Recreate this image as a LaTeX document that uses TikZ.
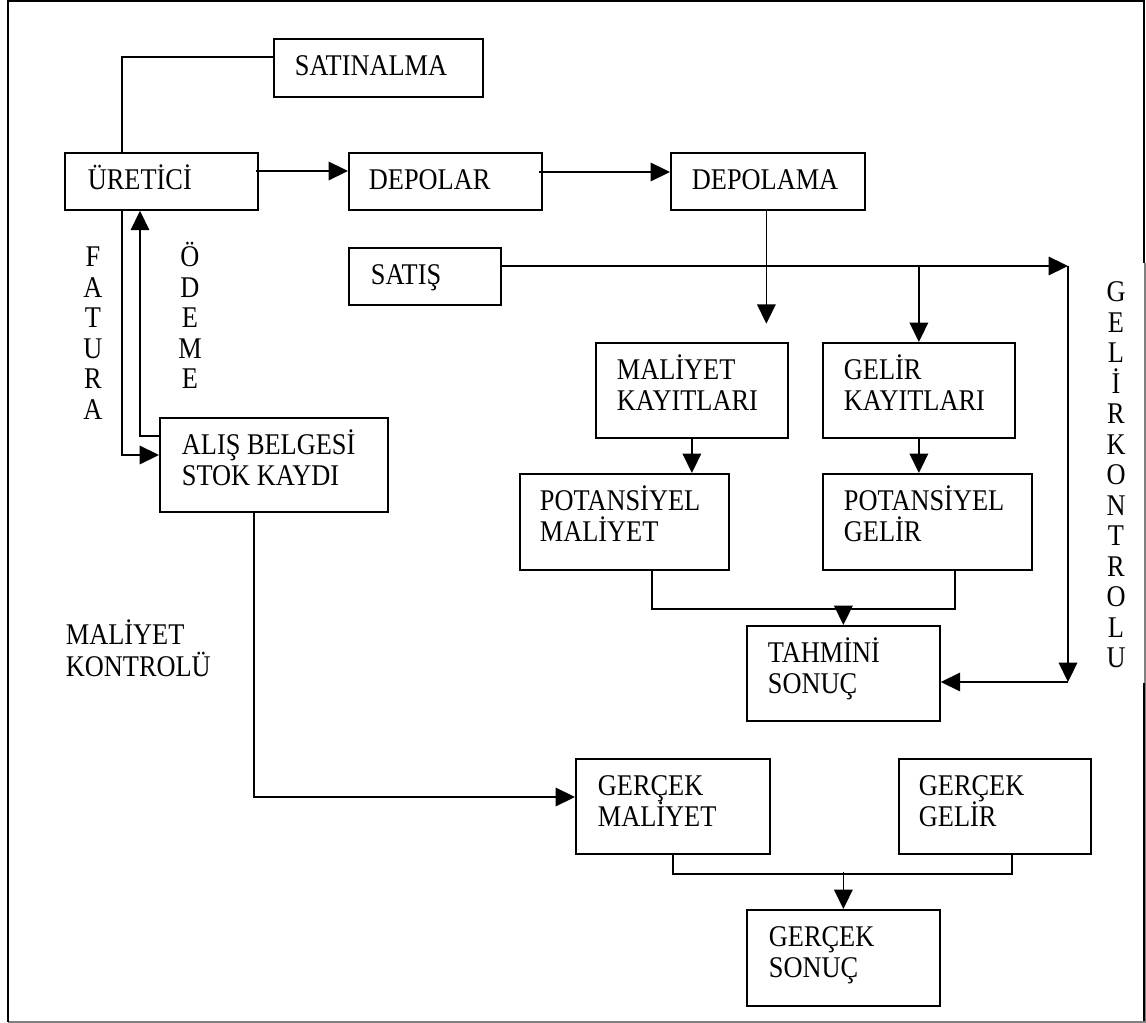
\documentclass[tikz,border=0pt]{standalone}
\usepackage{fontspec}
\setmainfont{Liberation Serif}
\newfontfamily\dgfont[FakeStretch=0.877]{Liberation Serif}
\usetikzlibrary{arrows.meta,calc}

% text placed in the upper left part of a box
\newcommand\boxtxt[3][21]{\node[txt] (#2-t) at ($(#2.north west)+(#1,8.3)$) {\rule{0pt}{16pt}#3};}

\begin{document}
\begin{tikzpicture}[x=0.02cm,y=-0.02cm,line width=1pt,
  bx/.style 2 args={draw,line width=1pt,anchor=north west,inner sep=0pt,
    minimum width=#1*0.02cm,minimum height=#2*0.02cm},
  txt/.style={anchor=north west,inner sep=0pt,align=left,
    font=\dgfont\fontsize{17.1pt}{17.86pt}\selectfont},
  vtxt/.style={anchor=north,inner sep=0pt,align=center,
    font=\dgfont\fontsize{17.1pt}{17.35pt}\selectfont},
  arr/.style={-{Triangle[length=11pt,width=10.5pt]}}]

\useasboundingbox (0,0) rectangle (1146,1023);

% outer frame
\draw[gray,line width=0.6pt] (8,1022) -- (1145,1022) -- (1145,263);
\draw[line width=1.1pt] (8,1022) -- (8,1) -- (1144,1) -- (1144,263);
\draw[line width=1.1pt] (1144,683) -- (1144,1021);

% boxes
\node[bx={209}{58}] (satin) at (273,38) {};
\node[bx={193}{57}] (ure) at (64,152) {};
\node[bx={193}{57}] (dep) at (348,152) {};
\node[bx={194}{57}] (dpl) at (670,152) {};
\node[bx={152}{57}] (sats) at (348,247) {};
\node[bx={228}{94}] (alis) at (159,417) {};
\node[bx={192}{95}] (mk) at (595,342) {};
\node[bx={192}{95}] (gk) at (822,342) {};
\node[bx={209}{96}] (pm) at (519,473) {};
\node[bx={209}{96}] (pg) at (822,473) {};
\node[bx={193}{95}] (tah) at (746,625) {};
\node[bx={194}{95}] (gm) at (575,758) {};
\node[bx={192}{95}] (gg) at (898,758) {};
\node[bx={193}{96}] (gs) at (746,909) {};

% box texts
\boxtxt[21]{satin}{SATINALMA}
\boxtxt[23]{ure}{ÜRETİCİ}
\boxtxt[20]{dep}{DEPOLAR}
\boxtxt{dpl}{DEPOLAMA}
\boxtxt[22]{sats}{SATIŞ}
\boxtxt[22]{alis}{ALIŞ BELGESİ\\STOK KAYDI}
\boxtxt{mk}{MALİYET\\KAYITLARI}
\boxtxt{gk}{GELİR\\KAYITLARI}
\boxtxt[20]{pm}{POTANSİYEL\\MALİYET}
\boxtxt{pg}{POTANSİYEL\\GELİR}
\boxtxt[21]{tah}{TAHMİNİ\\SONUÇ}
\boxtxt[22]{gm}{GERÇEK\\MALİYET}
\boxtxt[20]{gg}{GERÇEK\\GELİR}
\boxtxt[22]{gs}{GERÇEK\\SONUÇ}

% side labels
\node[vtxt] (fat) at (93,237.8) {\rule{0pt}{16pt}F\\A\\T\\U\\R\\A};
\node[vtxt] (ode) at (190,237.8) {\rule{0pt}{16pt}Ö\\D\\E\\M\\E};
\node[vtxt] (gkon) at (1116,272.8) {\rule{0pt}{16pt}G\\E\\L\\İ\\R\\K\\O\\N\\T\\R\\O\\L\\U};
\node[txt] (mkon) at (65,615.8) {\rule{0pt}{16pt}MALİYET\\KONTROLÜ};

% connectors
\draw ($(ure.north west)+(58,0)$) |- ($(satin.north west)+(0,19)$);
\draw[arr] ($(ure.north east)+(-3,19)$) -- ($(dep.north west)+(0,19)$);
\draw[arr] ($(dep.north east)+(-4,20)$) -- ($(dpl.north west)+(0,20)$);

\coordinate (dplend) at ($(dpl.south)+(-1.5,113)$);
\draw[arr] ($(dpl.south)+(-1.5,0)$) -- (dplend);

\coordinate (gkc) at (1068,266);
\coordinate (gkd) at (1068,682);
\draw[arr] ($(sats.north east)+(0,19)$) -- (gkc);
\draw[arr] (gk.north |- gkc) -- (gk.north);
\draw[arr] (gkc) -- (gkd);
\draw[arr] (gkd) -- (gkd -| tah.east);

\draw[arr] (mk.south) -- (mk.south |- pm.north);
\draw[arr] (gk.south) -- (gk.south |- pg.north);

\draw ($(pm.south west)+(133,0)$) |- ($(pg.south west)+(133,38)$) -- ($(pg.south west)+(133,0)$);
\draw[arr] ($(tah.north)+(0,-18)$) -- (tah.north);

\draw (gm.south) |- ($(gg.south west)+(114,19)$) -- ($(gg.south west)+(114,0)$);
\draw[arr] ($(gs.north)+(0,-37)$) -- (gs.north);

\draw[arr] ($(alis.south west)+(95,0)$) |- ($(gm.north west)+(0,39)$);
\draw[arr] ($(ure.south west)+(58,0)$) |- ($(alis.north west)+(0,38)$);
\draw[arr] ($(alis.north west)+(0,19)$) -| ($(ure.south west)+(76,0)$);

\end{tikzpicture}
\end{document}
